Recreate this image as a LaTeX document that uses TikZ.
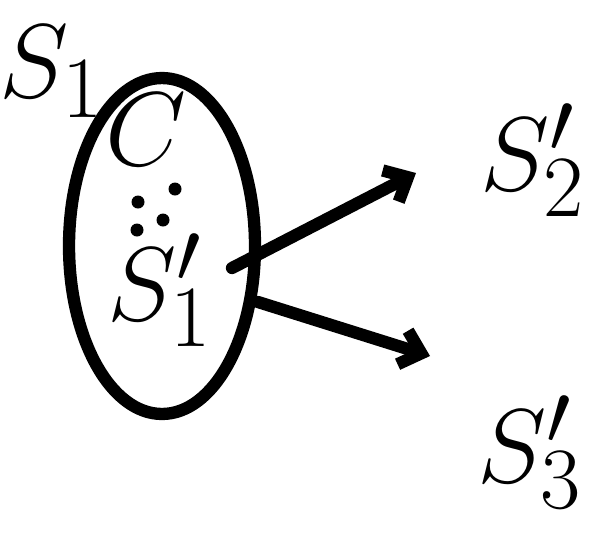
\documentclass[tikz,border=0pt]{standalone}
\usetikzlibrary{shapes.geometric,arrows.meta}
\begin{document}
\begin{tikzpicture}[x=0.02cm,y=-0.02cm,line width=7pt,line cap=round,line join=round,
  lbl/.style={font=\Huge,inner sep=0pt,scale=2.4,transform shape},
  dotty/.style={fill=black,draw=none},
  arr/.style={-{Straight Barb[length=11pt,width=20pt,line width=7pt]}}]
\useasboundingbox (0,0) rectangle (614,538);
\node[draw,ellipse,minimum width=3.72cm,minimum height=6.72cm,inner sep=0pt] (ell) at (162,246) {};
\node[lbl] (s1) at (52,72) {$S_1$};
\node[lbl] (c) at (146,130) {$C$};
\fill[dotty] (175,189) circle (6.5);
\fill[dotty] (138,202) circle (6.5);
\fill[dotty] (163,220) circle (6.5);
\fill[dotty] (137,230) circle (6.5);
\node[lbl] (s11) at (160,290) {$S_1'$};
\node[lbl] (s2) at (533,160) {$S_2'$};
\node[lbl] (s3) at (530,452) {$S_3'$};
\coordinate (a1s) at (232,268);
\coordinate (a1e) at (416,173);
\coordinate (a2s) at (258,302);
\coordinate (a2e) at (430,356);
\draw[arr] (a1s) -- (a1e);
\draw[arr] (a2s) -- (a2e);
\end{tikzpicture}
\end{document}
